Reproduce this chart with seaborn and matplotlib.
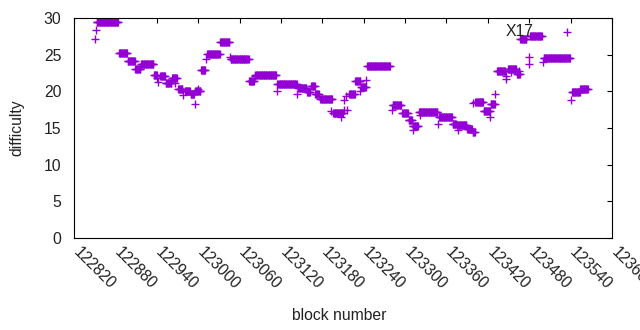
import numpy as np
import pandas as pd
import matplotlib
matplotlib.use("Agg")
import matplotlib.pyplot as plt
import matplotlib.transforms as mtransforms
import seaborn as sns

# Runs of consecutive blocks that share one difficulty value
run_start = [122853, 122885, 122898, 122909, 122917, 122936, 122945, 122953, 122962, 122971,
             122981, 122989, 122996, 123004, 123013, 123032, 123047, 123074, 123083, 123115,
             123145, 123158, 123164, 123170, 123177, 123196, 123219, 123228, 123236, 123245,
             123282, 123296, 123305, 123311, 123320, 123349, 123369, 123375, 123390, 123398,
             123402, 123414, 123424, 123433, 123449, 123462, 123467, 123481, 123501, 123542,
             123554]
run_end = [122884, 122897, 122908, 122916, 122935, 122940, 122952, 122961, 122969, 122977,
           122988, 122994, 123003, 123010, 123031, 123045, 123073, 123081, 123113, 123143,
           123157, 123162, 123169, 123175, 123194, 123210, 123227, 123235, 123243, 123278,
           123294, 123304, 123310, 123319, 123347, 123368, 123374, 123389, 123397, 123401,
           123413, 123423, 123430, 123445, 123461, 123466, 123476, 123498, 123539, 123553,
           123565]
run_value = [29.5, 25.2, 24.2, 23.1, 23.75, 22.2, 22.1, 21.2, 21.8, 20.3,
             20.1, 19.6, 20.1, 22.9, 25.05, 26.7, 24.4, 21.4, 22.2, 20.95,
             20.4, 19.9, 20.7, 19.7, 18.9, 17.0, 19.6, 21.4, 20.6, 23.45,
             18.1, 17.1, 16.1, 15.3, 17.25, 16.45, 15.6, 15.4, 14.8, 14.4,
             18.5, 17.3, 18.3, 22.8, 23.05, 22.4, 27.1, 27.5, 24.5, 19.85,
             20.3]

# Isolated blocks
single_block = [122851, 122852, 122941, 122942, 122967, 122978, 122995, 123000, 123011, 123046,
                123082, 123114, 123144, 123193, 123207, 123211, 123212, 123215, 123216, 123234,
                123244, 123281, 123312, 123322, 123348, 123377, 123399, 123423, 123431, 123446,
                123447, 123454, 123465, 123479, 123480, 123500, 123540]
single_value = [27.2, 28.3, 21.8, 21.3, 21.2, 19.5, 18.3, 20.3, 24.4, 24.7,
                22.1, 20.05, 19.7, 17.3, 16.5, 17.45, 18.8, 19.3, 17.45, 20.0,
                21.5, 17.45, 14.7, 16.8, 15.6, 14.7, 18.45, 16.45, 19.7, 21.7,
                22.1, 22.6, 22.8, 23.7, 24.7, 24.0, 18.8]

x_ticks = [122820, 122880, 122940, 123000, 123060, 123120, 123180, 123240,
           123300, 123360, 123420, 123480, 123540, 123600]
y_ticks = [0, 5, 10, 15, 20, 25, 30]
series_name = "X17"

# decode run-length data into one row per block
blocks, values = [], []
for s, e, v in zip(run_start, run_end, run_value):
    b = np.arange(s, e + 1)
    blocks.append(b)
    values.append(np.full(len(b), v))
blocks.append(np.array(single_block))
values.append(np.array(single_value))
df = pd.DataFrame({"block": np.concatenate(blocks), "difficulty": np.concatenate(values)})

sns.set_style("white")
plt.rcParams["font.family"] = ["Liberation Sans", "DejaVu Sans"]
FS = 11.3

fig = plt.figure(figsize=(6.4, 3.3), dpi=100)
ax = fig.add_axes([74 / 640, 1 - 238 / 330, 538 / 640, 220 / 330])

sns.scatterplot(data=df, x="block", y="difficulty", marker="+", s=30,
                color="#9400D3", linewidth=1.0, ax=ax, label=series_name, legend=False)

ax.set_xlim(122820, 123600)
ax.set_ylim(0, 30)
ax.set_xticks(x_ticks)
ax.set_xticklabels([str(t) for t in x_ticks])
ax.set_yticks(y_ticks)
ax.set_yticklabels([str(t) for t in y_ticks])

for sp in ax.spines.values():
    sp.set_color("black")
    sp.set_linewidth(0.8)

ax.tick_params(axis="both", direction="in", length=3.3, width=0.8, color="black",
               top=True, right=True, labelsize=FS, labelcolor="#222222")
ax.tick_params(axis="y", pad=9)
ax.tick_params(axis="x", pad=5)

offset = mtransforms.ScaledTranslation(5 / 72, 0, fig.dpi_scale_trans)
for lab in ax.get_xticklabels():
    lab.set_rotation(-45)
    lab.set_ha("left")
    lab.set_va("top")
    lab.set_rotation_mode("anchor")
    lab.set_transform(lab.get_transform() + offset)

ax.set_xlabel("block number", fontsize=FS, color="#222222")
ax.set_ylabel("difficulty", fontsize=FS, color="#222222")
ax.xaxis.set_label_coords((339 - 74) / 538, (238 - 315) / 220)
ax.xaxis.label.set_va("center")
ax.yaxis.set_label_coords((17 - 74) / 538, 0.5)
ax.yaxis.label.set_va("center")

ax.legend(loc="center right", bbox_to_anchor=((587 - 74) / 538, (238 - 31.7) / 220),
          frameon=False, markerfirst=False, handlelength=2.5, handletextpad=0.9,
          borderpad=0, borderaxespad=0, fontsize=FS, scatterpoints=1,
          labelcolor="#222222")

fig.savefig("out.png", dpi=100)
